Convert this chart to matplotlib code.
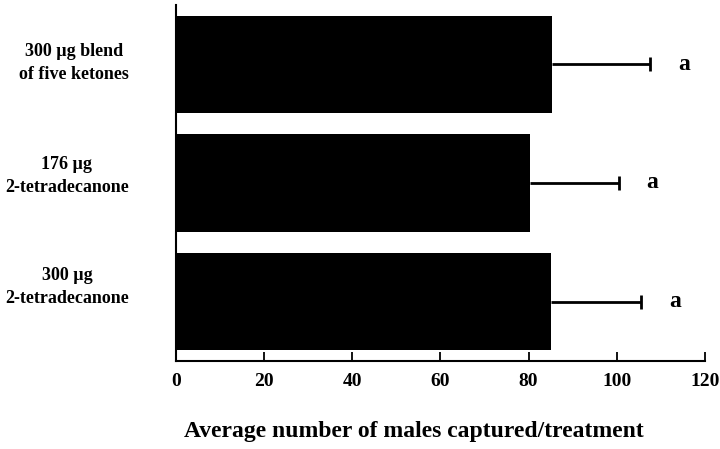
import matplotlib
matplotlib.use('Agg')
import matplotlib.pyplot as plt
import matplotlib.transforms as mtransforms
import numpy as np

plt.rcParams['font.family'] = ['Liberation Serif', 'DejaVu Serif']
plt.rcParams['font.weight'] = 'bold'

# treatments, bottom to top
treatments = ['300 \u00b5g\n2-tetradecanone',
              '176 \u00b5g\n2-tetradecanone',
              '300 \u00b5g blend\nof five ketones']
means = [85.0, 80.4, 85.4]
errors = [20.6, 20.0, 22.2]
letters = ['a', 'a', 'a']
xticks = [0, 20, 40, 60, 80, 100, 120]

fig = plt.figure(figsize=(7.2, 4.49), dpi=100)
ax = fig.add_axes([0.2444, 0.196, 0.7347, 0.793])

y = np.arange(len(treatments))
means = np.array(means)
errors = np.array(errors)
ax.barh(y, means, height=0.82, color='black')
# one-sided error bars, cap only on the outer end
ax.errorbar(means, y, xerr=[np.zeros(len(means)), errors], fmt='none',
            ecolor='black', elinewidth=2, capsize=0)
ax.plot(means + errors, y, linestyle='none', marker='|', markersize=10,
        markeredgewidth=2, color='black')
for yi, m, e, l in zip(y, means, errors, letters):
    ax.text(m + e + 7.7, yi, l, ha='center', va='center', fontsize=17, fontweight='bold')

ax.set_xlim(0, 120)
ax.set_ylim(-0.5, 2.5)
ax.set_xticks(xticks)
ax.set_xticklabels([str(t) for t in xticks], fontsize=14, fontweight='bold')
ax.set_yticks(y)
ax.set_yticklabels(treatments, fontsize=13, fontweight='bold', multialignment='center',
                   linespacing=1.45)
ax.tick_params(axis='y', length=0, pad=34)
ax.tick_params(axis='x', direction='in', length=6.5, width=1.3, pad=9)

# labels in the original sit a little above their bars
shifts = [14.4, 8.3, 4.3]
for lab, s in zip(ax.get_yticklabels(), shifts):
    lab.set_transform(lab.get_transform() +
                      mtransforms.ScaledTranslation(0, s / 72, fig.dpi_scale_trans))

ax.spines['top'].set_visible(False)
ax.spines['right'].set_visible(False)
ax.spines['left'].set_linewidth(1.5)
ax.spines['bottom'].set_linewidth(1.5)

ax.set_xlabel('Average number of males captured/treatment', fontsize=17,
              fontweight='bold')
ax.xaxis.set_label_coords(0.45, -0.168)

fig.savefig('out.png', dpi=100)
